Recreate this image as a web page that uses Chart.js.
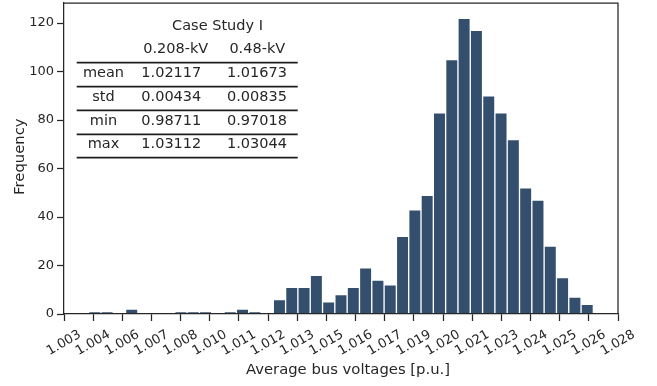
<!DOCTYPE html>
<html>
<head>
<meta charset="utf-8">
<script src="https://cdn.jsdelivr.net/npm/chart.js@4/dist/chart.umd.min.js"></script>
<style>
  html, body { margin: 0; padding: 0; background: #ffffff; }
  #c { display: block; }
</style>
</head>
<body>
<canvas id="c" width="657" height="386"></canvas>
<script>
// ---- data ----
const X_MIN = 1.00307;
const X_MAX = 1.02777;
const TICK_LABELS = ['1.003','1.004','1.006','1.007','1.008','1.010','1.011','1.012','1.013','1.015',
                     '1.016','1.017','1.019','1.020','1.021','1.023','1.024','1.025','1.026','1.028'];
// histogram counts, 45 equal bins spanning the x range
const COUNTS = [0, 0, 1, 1, 0, 2, 0, 0, 0, 1,
                1, 1, 0, 1, 2, 1, 0, 6, 11, 11,
                16, 5, 8, 11, 19, 14, 12, 32, 43, 49,
                83, 105, 122, 117, 90, 83, 72, 52, 47, 28,
                15, 7, 4, 0, 0];
const Y_MAX = 128.3;
const Y_TICKS = [0, 20, 40, 60, 80, 100, 120];
const X_TITLE = 'Average bus voltages [p.u.]';
const Y_TITLE = 'Frequency';

const TABLE_TITLE = 'Case Study I';
const TABLE_COLS = ['0.208-kV', '0.48-kV'];
const TABLE_ROWS = ['mean', 'std', 'min', 'max'];
const COL_208 = ['1.02117', '0.00434', '0.98711', '1.03112'];
const COL_48  = ['1.01673', '0.00835', '0.97018', '1.03044'];

const INK = '#262626';
const BAR = '#344f6e';
const FONT = 'DejaVu Sans';

const nBins = COUNTS.length;
const binW = (X_MAX - X_MIN) / nBins;
const barData = COUNTS.map((c, i) => ({ x: X_MIN + (i + 0.5) * binW, y: c === 0 ? null : c }));

const framePlugin = {
  id: 'frame',
  afterDatasetsDraw(chart) {
    const { ctx, chartArea: a } = chart;
    ctx.save();
    ctx.strokeStyle = INK;
    ctx.lineWidth = 1.25;
    ctx.beginPath();
    ctx.moveTo(a.left, a.top);
    ctx.lineTo(a.right, a.top);
    ctx.lineTo(a.right, a.bottom);
    ctx.stroke();
    ctx.restore();
  }
};

const titlesPlugin = {
  id: 'axisTitles',
  afterDraw(chart) {
    const ctx = chart.ctx;
    ctx.save();
    ctx.fillStyle = INK;
    ctx.font = '14.8px "' + FONT + '"';
    ctx.textAlign = 'center';
    ctx.textBaseline = 'middle';
    ctx.fillText(X_TITLE, 348, 370);
    ctx.translate(19.7, 156.7);
    ctx.rotate(-Math.PI / 2);
    ctx.fillText(Y_TITLE, 0, 0);
    ctx.restore();
  }
};

const tablePlugin = {
  id: 'statsTable',
  afterDraw(chart) {
    const ctx = chart.ctx;
    ctx.save();
    ctx.fillStyle = INK;
    ctx.font = '14.5px "' + FONT + '"';
    ctx.textAlign = 'center';
    ctx.textBaseline = 'middle';
    ctx.fillText(TABLE_TITLE, 217.5, 26);
    ctx.fillText(TABLE_COLS[0], 175.7, 49.5);
    ctx.fillText(TABLE_COLS[1], 257.3, 49.5);
    const rowY = [73.5, 97.3, 120.9, 144.5];
    const lineY = [62.7, 86.7, 110.3, 134.3, 157.7];
    for (let i = 0; i < TABLE_ROWS.length; i++) {
      ctx.fillText(TABLE_ROWS[i], 103.5, rowY[i]);
      ctx.fillText(COL_208[i], 171.3, rowY[i]);
      ctx.fillText(COL_48[i], 257.0, rowY[i]);
    }
    ctx.strokeStyle = '#1e1e1e';
    ctx.lineWidth = 1.8;
    for (const y of lineY) {
      ctx.beginPath();
      ctx.moveTo(76.7, y);
      ctx.lineTo(297.7, y);
      ctx.stroke();
    }
    ctx.restore();
  }
};

new Chart(document.getElementById('c'), {
  type: 'bar',
  data: {
    datasets: [{
      data: barData,
      backgroundColor: BAR,
      borderColor: '#ffffff',
      borderWidth: 1,
      barPercentage: 1,
      categoryPercentage: 1
    }]
  },
  options: {
    responsive: false,
    animation: false,
    devicePixelRatio: 1,
    layout: { padding: { left: 0, right: 39, top: 3, bottom: 0 } },
    plugins: { legend: { display: false }, tooltip: { enabled: false } },
    scales: {
      x: {
        type: 'linear',
        min: X_MIN,
        max: X_MAX,
        offset: false,
        afterBuildTicks(s) {
          s.ticks = TICK_LABELS.map((l, i) => ({ value: X_MIN + i * (X_MAX - X_MIN) / (TICK_LABELS.length - 1) }));
        },
        afterFit(s) { s.height = 72; s.paddingLeft = 0; s.paddingRight = 0; },
        grid: { display: true, drawOnChartArea: false, drawTicks: true, tickLength: 7, tickWidth: 1.25, tickColor: INK, offset: false },
        border: { display: true, color: INK, width: 1.25, z: 1 },
        ticks: {
          autoSkip: false, maxRotation: 30, minRotation: 30, labelOffset: 16, padding: 6,
          font: { family: FONT, size: 13 }, color: INK,
          callback: (v, i) => TICK_LABELS[i]
        },
        title: { display: false }
      },
      y: {
        type: 'linear',
        min: 0,
        max: Y_MAX,
        afterBuildTicks(s) { s.ticks = Y_TICKS.map(v => ({ value: v })); },
        afterFit(s) { s.width = 64; s.paddingTop = 0; s.paddingBottom = 0; },
        grid: { display: true, drawOnChartArea: false, drawTicks: true, tickLength: 7, tickWidth: 1.25, tickColor: INK },
        border: { display: true, color: INK, width: 1.25, z: 1 },
        ticks: { padding: 3, font: { family: FONT, size: 13 }, color: INK },
        title: { display: false }
      }
    }
  },
  plugins: [framePlugin, titlesPlugin, tablePlugin]
});
</script>
</body>
</html>
